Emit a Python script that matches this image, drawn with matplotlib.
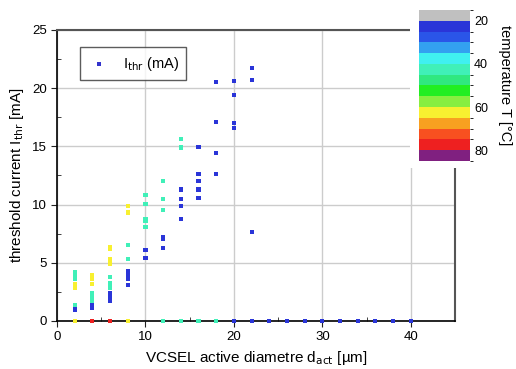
import numpy as np
import matplotlib
matplotlib.use('Agg')
from matplotlib import pyplot as plt
from matplotlib.colors import ListedColormap, BoundaryNorm
from matplotlib.patches import Rectangle
from matplotlib.ticker import MultipleLocator

plt.rcParams['font.family'] = ['Liberation Sans', 'DejaVu Sans']

# threshold current vs active diameter, grouped by temperature (0 = no lasing)
d_20 = [2, 2, 4, 4, 6, 6, 6, 6, 8, 8, 8, 8, 10, 10, 12, 12, 12,
        14, 14, 14, 14, 16, 16, 16, 16, 16, 18, 18, 18, 18,
        20, 20, 20, 20, 22, 22, 22,
        20, 22, 24, 26, 28, 30, 32, 34, 36, 38, 40]
i_20 = [1.15, 0.97, 1.35, 1.12, 2.38, 2.2, 1.92, 1.69, 4.27, 3.98, 3.63, 3.07,
        6.1, 5.41, 7.24, 7.02, 6.27,
        11.3, 10.5, 9.9, 8.74, 14.97, 12.63, 12.05, 11.3, 10.6,
        20.5, 17.1, 14.4, 12.6, 20.6, 19.45, 17.0, 16.6, 21.7, 20.7, 7.62,
        0, 0, 0, 0, 0, 0, 0, 0, 0, 0, 0]

d_40 = [2, 2, 2, 2, 4, 4, 4, 4, 6, 6, 6, 6, 8, 8,
        10, 10, 10, 10, 10, 12, 12, 12, 14, 14,
        12, 14, 16, 18]
i_40 = [4.24, 3.95, 3.6, 1.37, 2.38, 2.15, 1.92, 1.75, 3.75, 3.29, 3.0, 2.83,
        6.56, 5.35, 10.85, 10.05, 8.79, 8.56, 8.1, 12.05, 10.5, 9.54, 15.6, 14.9,
        0, 0, 0, 0]

d_60 = [2, 2, 4, 4, 4, 6, 6, 6, 6, 6, 8, 8, 8, 2, 8]
i_60 = [3.15, 2.8, 3.92, 3.58, 3.18, 6.38, 6.2, 5.35, 5.13, 4.9,
        9.88, 9.36, 9.25, 0, 0]

d_77 = [4, 6]
i_77 = [0, 0]

groups = [(20, d_20, i_20), (40, d_40, i_40), (60, d_60, i_60), (77, d_77, i_77)]

band_colors = ['#c0c0c0', '#2a35d8', '#2a55e8', '#33a0f0', '#40f0f0', '#40f0b8',
               '#30e880', '#22ee22', '#88ee40', '#f8f030', '#f8a020', '#f85020',
               '#ee2020', '#802080']
cmap = ListedColormap(band_colors)
norm = BoundaryNorm(np.arange(15, 90, 5), cmap.N)

fig = plt.figure(figsize=(5.16, 3.69), dpi=100)
ax = fig.add_axes([0.1105, 0.1301, 0.7713, 0.7886])

for t, d, i in groups:
    ax.scatter(d, i, c=[t] * len(d), cmap=cmap, norm=norm, marker='s', s=9,
               linewidths=0, clip_on=False, zorder=5)

# legend handle
ax.scatter([], [], color='#3333cc', marker='s', s=9, linewidths=0, label=r'I$_{\rm thr}$ (mA)')
leg = ax.legend(loc='upper left', bbox_to_anchor=(0.04, 0.965), fancybox=False,
                edgecolor='#333333', fontsize=10.5, handletextpad=0.8,
                borderpad=0.5, handlelength=1.6)
leg.get_frame().set_linewidth(1.0)

ax.set_xlim(0, 45)
ax.set_ylim(0, 25)
ax.xaxis.set_major_locator(MultipleLocator(10))
ax.xaxis.set_minor_locator(MultipleLocator(5))
ax.yaxis.set_major_locator(MultipleLocator(5))
ax.yaxis.set_minor_locator(MultipleLocator(2.5))
ax.grid(True, which='major', color='#cccccc', linewidth=1.0)
ax.set_axisbelow(True)
ax.tick_params(which='major', direction='out', length=4, labelsize=9.5, color='#222222')
ax.tick_params(which='minor', direction='in', length=3, color='#222222')
for s in ['top', 'right']:
    ax.spines[s].set_color('#555555')
    ax.spines[s].set_linewidth(1.5)
for s in ['left', 'bottom']:
    ax.spines[s].set_linewidth(1.2)

ax.set_xlabel(r'VCSEL active diametre d$_{\rm act}$ [µm]', fontsize=11)
ax.set_ylabel(r'threshold current I$_{\rm thr}$ [mA]', fontsize=11)

# white panel behind the colour scale
fig.patches.append(Rectangle((0.7946, 0.5447), 0.21, 0.46, transform=fig.transFigure,
                             facecolor='white', edgecolor='none', zorder=3))

cax = fig.add_axes([0.812, 0.5637, 0.0988, 0.4092])
cax.set_zorder(10)
sm = plt.cm.ScalarMappable(cmap=cmap, norm=norm)
cb = fig.colorbar(sm, cax=cax, ticks=[20, 40, 60, 80])
cb.outline.set_visible(False)
cax.invert_yaxis()
cax.tick_params(length=0, labelsize=9, pad=3)
cb.set_label('temperature T [°C]', rotation=270, fontsize=10.5, labelpad=17)

fig.savefig('out.png', dpi=100)
